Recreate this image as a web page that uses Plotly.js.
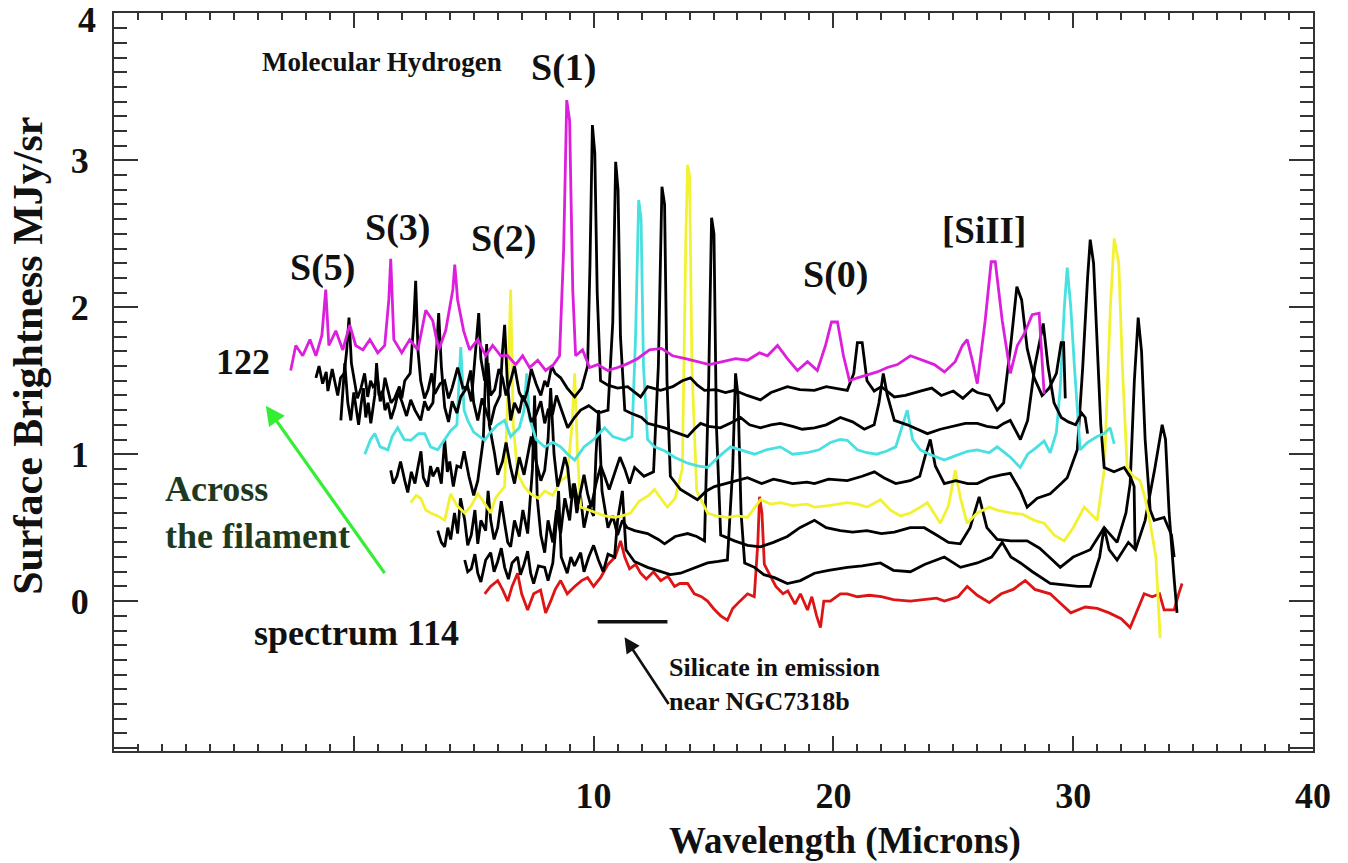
<!DOCTYPE html>
<html><head><meta charset="utf-8">
<script src="https://cdn.plot.ly/plotly-3.0.1.min.js"></script>
<style>html,body{margin:0;padding:0;background:#fff}#chart{width:1348px;height:863px}</style>
</head><body><div id="chart"></div>
<script>
// ---- data: [wavelength, surface brightness] ----
const spec122 = [[-2.63,1.57],[-2.42,1.74],[-2.13,1.67],[-1.83,1.78],[-1.58,1.67],[-1.33,1.81],[-1.17,2.12],[-1.04,1.74],[-0.75,1.84],[-0.46,1.71],[-0.17,1.88],[0.08,1.74],[0.38,1.71],[0.67,1.78],[1.0,1.69],[1.29,1.74],[1.46,2.05],[1.54,2.33],[1.67,1.78],[2.0,1.69],[2.33,1.78],[2.67,1.71],[3.0,1.98],[3.29,1.91],[3.54,1.71],[3.83,1.84],[4.13,2.12],[4.21,2.29],[4.33,2.05],[4.58,1.84],[4.83,1.71],[5.17,1.78],[5.5,1.67],[5.79,1.74],[6.13,1.67],[6.42,1.67],[6.75,1.61],[7.04,1.67],[7.33,1.59],[7.67,1.64],[8.0,1.57],[8.33,1.61],[8.58,1.67],[8.75,2.39],[8.88,3.41],[9.0,3.27],[9.13,2.12],[9.25,1.67],[9.54,1.71],[9.83,1.59],[10.17,1.61],[10.58,1.57],[11.0,1.59],[11.33,1.61],[11.83,1.65],[12.33,1.71],[12.83,1.72],[13.29,1.67],[13.83,1.65],[14.33,1.63],[14.83,1.61],[15.38,1.63],[15.92,1.65],[16.42,1.64],[16.92,1.69],[17.25,1.67],[17.67,1.74],[18.08,1.65],[18.5,1.57],[18.92,1.63],[19.33,1.57],[19.67,1.74],[19.92,1.90],[20.17,1.90],[20.42,1.67],[20.67,1.50],[21.0,1.52],[21.42,1.54],[21.83,1.56],[22.25,1.59],[22.67,1.61],[23.21,1.67],[23.71,1.64],[24.21,1.61],[24.63,1.56],[25.08,1.63],[25.38,1.74],[25.58,1.78],[25.79,1.64],[26.0,1.48],[26.33,1.91],[26.58,2.31],[26.75,2.31],[27.04,1.91],[27.38,1.55],[27.67,1.74],[27.96,1.82],[28.29,1.95],[28.58,1.96],[28.79,1.41]];

const specA = [[-1.58,1.52],[-1.45,1.60],[-1.3,1.48],[-1.15,1.56],[-1.08,1.43],[-0.9,1.58],[-0.8,1.50],[-0.67,1.40],[-0.55,1.52],[-0.4,1.55],[-0.3,1.70],[-0.2,1.93],[-0.1,1.62],[0.04,1.50],[0.15,1.38],[0.3,1.45],[0.45,1.55],[0.58,1.39],[0.7,1.50],[0.8,1.46],[1.0,1.50],[1.1,1.36],[1.2,1.40],[1.3,1.52],[1.42,1.44],[1.55,1.35],[1.7,1.38],[1.9,1.46],[2.0,1.38],[2.125,1.50],[2.35,1.55],[2.5,1.9],[2.58,2.18],[2.68,1.7],[2.79,1.50],[2.95,1.38],[3.1,1.44],[3.25,1.55],[3.375,1.41],[3.6,1.48],[3.79,1.50],[3.95,1.38],[4.1,1.45],[4.33,1.59],[4.55,1.45],[4.75,1.46],[4.9,1.36],[5.0,1.55],[5.12,1.8],[5.21,1.96],[5.3,1.65],[5.46,1.50],[5.6,1.62],[5.7,1.40],[5.875,1.44],[6.05,1.58],[6.2,1.52],[6.35,1.40],[6.54,1.50],[6.7,1.60],[6.9,1.42],[7.1,1.36],[7.25,1.44],[7.4,1.58],[7.6,1.48],[7.8,1.40],[7.96,1.50],[8.08,1.46],[8.25,1.60],[8.4,1.55],[8.625,1.52],[8.9,1.45],[9.21,1.39],[9.5,1.45],[9.75,1.60],[9.85,2.3],[9.95,3.24],[10.05,3.05],[10.15,2.1],[10.29,1.50],[10.6,1.47],[11.0,1.45],[11.42,1.46],[11.96,1.39],[12.25,1.46],[12.79,1.435],[13.3,1.46],[13.7,1.50],[14.04,1.52],[14.33,1.47],[14.625,1.435],[15.1,1.44],[15.5,1.42],[15.875,1.435],[16.4,1.40],[16.96,1.37],[17.4,1.42],[17.79,1.44],[18.08,1.46],[18.6,1.44],[19.21,1.435],[19.7,1.46],[20.29,1.44],[20.58,1.435],[20.85,1.55],[21.0,1.76],[21.2,1.76],[21.4,1.50],[21.7,1.43],[22.0,1.46],[22.54,1.39],[23.0,1.40],[23.625,1.43],[24.1,1.45],[24.5,1.40],[25.0,1.43],[25.4,1.38],[25.8,1.44],[26.0,1.42],[26.5,1.40],[26.83,1.30],[27.1,1.35],[27.4,1.75],[27.65,2.14],[27.85,2.05],[28.08,1.72],[28.375,1.52],[28.7,1.40],[29.0,1.45],[29.3,1.55],[29.5,1.76],[29.6,1.76],[29.67,1.38]];

const specB = [[-0.54,1.23],[-0.45,1.45],[-0.375,1.62],[-0.25,1.35],[-0.125,1.23],[0.0,1.42],[0.1,1.30],[0.2,1.20],[0.29,1.32],[0.4,1.45],[0.5,1.25],[0.6,1.35],[0.71,1.21],[0.875,1.40],[0.95,1.62],[1.05,1.40],[1.2,1.43],[1.3,1.30],[1.42,1.35],[1.55,1.24],[1.71,1.32],[1.85,1.42],[2.0,1.36],[2.2,1.26],[2.375,1.37],[2.55,1.30],[2.79,1.23],[2.95,1.36],[3.1,1.30],[3.3,1.35],[3.45,1.70],[3.54,1.96],[3.65,1.60],[3.79,1.32],[3.95,1.22],[4.1,1.36],[4.3,1.28],[4.46,1.39],[4.7,1.45],[4.875,1.57],[5.0,1.35],[5.17,1.23],[5.35,1.38],[5.5,1.30],[5.7,1.20],[5.875,1.32],[6.1,1.40],[6.2,1.70],[6.29,1.88],[6.4,1.50],[6.54,1.23],[6.7,1.35],[6.9,1.28],[7.05,1.40],[7.25,1.32],[7.4,1.22],[7.6,1.27],[7.8,1.36],[7.96,1.21],[8.1,1.30],[8.3,1.28],[8.45,1.40],[8.625,1.32],[8.92,1.18],[9.2,1.25],[9.46,1.30],[9.8,1.33],[10.2,1.28],[10.6,1.30],[10.8,1.9],[10.92,2.99],[11.02,2.80],[11.12,1.80],[11.3,1.30],[11.54,1.28],[12.0,1.25],[12.25,1.21],[12.7,1.19],[12.96,1.18],[13.4,1.15],[13.92,1.12],[14.2,1.17],[14.46,1.21],[14.8,1.19],[15.29,1.18],[15.8,1.22],[16.125,1.25],[16.5,1.20],[16.96,1.18],[17.4,1.20],[17.79,1.21],[18.3,1.19],[18.7,1.17],[19.21,1.18],[19.7,1.20],[20.29,1.25],[20.8,1.22],[21.29,1.17],[21.7,1.20],[21.9,1.35],[22.08,1.55],[22.25,1.40],[22.54,1.23],[23.08,1.20],[23.6,1.16],[23.92,1.14],[24.46,1.17],[25.0,1.19],[25.5,1.21],[26.0,1.21],[26.4,1.19],[26.83,1.18],[27.1,1.21],[27.375,1.23],[27.8,1.10],[28.1,1.23],[28.4,1.60],[28.75,1.89],[28.95,1.60],[29.2,1.35],[29.5,1.25],[29.8,1.22],[30.1,1.20],[30.35,1.28],[30.5,1.25],[30.6,1.14]];

const specCyan = [[0.46,1.00],[0.7,1.10],[0.875,1.14],[1.1,1.05],[1.42,1.03],[1.6,1.12],[1.83,1.18],[2.1,1.10],[2.375,1.095],[2.7,1.14],[2.96,1.14],[3.2,1.05],[3.5,1.03],[3.8,1.10],[4.04,1.16],[4.3,1.20],[4.46,1.73],[4.6,1.30],[4.75,1.23],[5.0,1.15],[5.46,1.095],[5.7,1.15],[6.0,1.20],[6.29,1.23],[6.54,1.12],[6.9,1.18],[7.1,1.30],[7.21,1.55],[7.32,1.25],[7.6,1.10],[7.96,1.05],[8.3,1.08],[8.625,1.05],[8.92,1.00],[9.21,0.96],[9.6,1.05],[10.0,1.10],[10.46,1.18],[10.8,1.12],[11.29,1.095],[11.6,1.12],[11.75,1.8],[11.88,2.73],[11.98,2.6],[12.08,1.6],[12.25,1.10],[12.54,1.05],[13.0,1.02],[13.375,0.98],[13.9,0.94],[14.33,0.92],[14.75,0.91],[15.2,0.98],[15.71,1.05],[16.125,1.03],[16.71,1.00],[17.2,1.03],[17.79,1.05],[18.3,1.00],[18.9,1.01],[19.4,1.03],[19.875,1.08],[20.29,1.10],[20.58,1.095],[21.0,1.03],[21.4,1.01],[21.8,1.00],[22.2,1.02],[22.6,1.05],[22.9,1.20],[23.08,1.30],[23.3,1.10],[23.625,1.03],[24.0,1.00],[24.625,0.96],[25.1,0.99],[25.6,1.02],[26.0,1.03],[26.5,1.01],[26.83,1.05],[27.375,0.98],[27.79,0.91],[28.1,1.00],[28.5,1.05],[28.79,1.09],[29.04,1.01],[29.3,1.15],[29.46,1.45],[29.63,2.0],[29.75,2.27],[29.9,2.0],[30.05,1.6],[30.29,1.03],[30.6,1.08],[31.0,1.12],[31.29,1.14],[31.54,1.18],[31.71,1.07]];

const specC = [[1.54,0.89],[1.65,0.80],[1.8,0.85],[1.95,0.95],[2.125,0.82],[2.25,0.74],[2.4,0.88],[2.55,0.80],[2.67,0.91],[2.8,1.02],[2.9,0.84],[3.08,0.78],[3.2,0.92],[3.3,0.85],[3.5,0.91],[3.65,0.80],[3.79,1.10],[3.9,0.88],[4.0,0.95],[4.15,0.78],[4.3,0.92],[4.46,0.91],[4.6,1.02],[4.8,0.85],[5.0,0.72],[5.17,0.82],[5.4,1.1],[5.54,1.75],[5.65,1.2],[5.875,1.00],[6.0,0.86],[6.2,0.95],[6.35,1.08],[6.54,0.91],[6.7,0.80],[6.9,0.98],[7.1,0.86],[7.25,1.00],[7.4,1.12],[7.6,0.95],[7.8,0.82],[7.96,0.89],[8.1,1.1],[8.21,1.45],[8.35,1.0],[8.5,0.78],[8.625,0.85],[8.8,0.98],[8.92,0.91],[9.05,0.70],[9.2,0.80],[9.35,0.66],[9.46,0.75],[9.6,0.86],[9.75,0.73],[9.9,0.64],[10.1,0.80],[10.3,0.92],[10.46,0.85],[10.65,0.76],[10.875,0.87],[11.1,0.98],[11.3,0.90],[11.5,0.80],[11.71,0.91],[12.1,0.85],[12.5,0.88],[12.7,1.6],[12.85,2.82],[12.96,2.7],[13.06,1.5],[13.2,0.85],[13.625,0.76],[14.0,0.72],[14.33,0.69],[14.7,0.75],[15.04,0.78],[15.5,0.80],[16.0,0.82],[16.42,0.84],[17.0,0.80],[17.5,0.83],[17.79,0.82],[18.3,0.80],[18.9,0.81],[19.21,0.80],[19.8,0.83],[20.58,0.82],[21.2,0.85],[21.71,0.88],[22.1,0.84],[22.6,0.80],[23.2,0.82],[23.6,0.85],[23.85,1.0],[24.04,1.10],[24.25,0.92],[24.625,0.80],[25.1,0.82],[25.6,0.80],[26.0,0.80],[26.5,0.84],[27.0,0.86],[27.375,0.87],[27.8,0.75],[28.08,0.64],[28.5,0.70],[29.04,0.73],[29.5,0.80],[29.75,0.84],[30.17,1.03],[30.4,1.6],[30.6,2.2],[30.71,2.46],[30.85,2.3],[31.0,1.8],[31.15,1.2],[31.29,0.91],[31.7,0.88],[32.125,0.91],[32.4,0.84],[32.54,0.78],[32.58,0.35]];

const specYellow = [[2.375,0.67],[2.6,0.72],[2.79,0.70],[3.0,0.62],[3.21,0.60],[3.5,0.58],[3.79,0.55],[4.04,0.73],[4.3,0.65],[4.625,0.60],[4.9,0.65],[5.17,0.73],[5.4,0.68],[5.71,0.60],[5.9,0.70],[6.29,0.78],[6.42,1.4],[6.54,2.12],[6.65,1.2],[6.83,0.87],[7.1,0.78],[7.375,0.73],[7.7,0.70],[7.96,0.75],[8.3,0.72],[8.625,0.82],[8.9,0.85],[9.1,1.2],[9.21,1.55],[9.33,1.0],[9.46,0.64],[9.8,0.62],[10.1,0.60],[10.46,0.58],[10.875,0.57],[11.2,0.58],[11.54,0.60],[11.9,0.68],[12.3,0.72],[12.54,0.76],[12.8,0.70],[13.08,0.64],[13.4,0.70],[13.7,0.9],[13.85,2.5],[13.92,2.97],[14.0,2.9],[14.1,1.6],[14.3,0.75],[14.75,0.60],[15.1,0.58],[15.58,0.57],[16.0,0.58],[16.42,0.57],[16.96,0.69],[17.4,0.66],[17.79,0.67],[18.3,0.65],[18.9,0.66],[19.21,0.64],[19.8,0.65],[20.58,0.67],[21.0,0.66],[21.4,0.64],[21.96,0.69],[22.375,0.62],[22.8,0.58],[23.21,0.60],[23.625,0.64],[23.92,0.67],[24.46,0.53],[24.8,0.65],[25.08,0.89],[25.3,0.70],[25.58,0.53],[26.0,0.60],[26.5,0.64],[26.83,0.62],[27.375,0.60],[27.9,0.59],[28.375,0.55],[28.79,0.53],[29.2,0.45],[29.625,0.41],[30.0,0.50],[30.46,0.64],[31.0,0.55],[31.3,0.9],[31.55,2.0],[31.71,2.47],[31.9,2.3],[32.05,1.6],[32.25,0.91],[32.5,0.85],[32.79,0.82],[33.0,0.70],[33.21,0.53],[33.45,0.3],[33.625,-0.25]];

const specD = [[3.5,0.48],[3.65,0.40],[3.79,0.37],[3.92,0.50],[4.04,0.42],[4.2,0.60],[4.33,0.46],[4.45,0.70],[4.625,0.55],[4.75,0.38],[4.9,0.45],[5.05,0.62],[5.17,0.39],[5.3,0.55],[5.5,0.48],[5.6,0.75],[5.71,0.55],[5.85,0.42],[6.0,0.50],[6.15,0.68],[6.3,0.52],[6.42,0.40],[6.54,0.37],[6.7,0.55],[6.9,0.44],[7.05,0.62],[7.25,0.46],[7.45,0.9],[7.54,1.4],[7.65,0.7],[7.8,0.45],[7.96,0.33],[8.1,0.55],[8.3,0.40],[8.45,0.62],[8.625,0.46],[8.8,0.70],[9.0,0.55],[9.15,0.80],[9.3,0.60],[9.45,0.72],[9.6,0.50],[9.8,0.65],[10.0,0.58],[10.1,1.0],[10.21,1.3],[10.35,0.75],[10.5,0.60],[10.6,0.50],[10.8,0.58],[11.0,0.45],[11.2,0.55],[11.4,0.50],[11.71,0.48],[12.25,0.46],[12.7,0.42],[12.96,0.39],[13.4,0.44],[13.92,0.46],[14.3,0.44],[14.625,0.41],[14.8,1.5],[14.92,2.61],[15.02,2.5],[15.12,1.2],[15.3,0.45],[15.875,0.41],[16.42,0.38],[16.96,0.37],[17.5,0.40],[18.08,0.44],[18.6,0.50],[19.21,0.55],[19.7,0.50],[20.29,0.48],[20.8,0.47],[21.4,0.48],[22.0,0.46],[22.54,0.47],[23.2,0.50],[23.79,0.50],[24.3,0.45],[24.8,0.40],[25.29,0.39],[25.7,0.50],[26.08,0.71],[26.4,0.50],[26.83,0.42],[27.4,0.41],[28.08,0.41],[28.6,0.36],[29.0,0.30],[29.46,0.23],[30.0,0.30],[30.71,0.35],[31.29,0.50],[31.83,0.40],[32.2,0.60],[32.375,0.80],[32.55,1.5],[32.71,1.93],[32.85,1.7],[33.0,1.1],[33.21,0.62],[33.375,0.55],[33.79,0.57],[34.1,0.45],[34.21,0.30]];

const specE = [[4.625,0.28],[4.75,0.20],[4.9,0.22],[5.05,0.32],[5.17,0.19],[5.3,0.13],[5.5,0.28],[5.71,0.33],[5.85,0.20],[6.0,0.27],[6.15,0.36],[6.29,0.23],[6.45,0.15],[6.6,0.26],[6.83,0.30],[6.95,0.18],[7.1,0.25],[7.25,0.34],[7.375,0.19],[7.5,0.12],[7.7,0.24],[7.96,0.23],[8.1,0.14],[8.3,0.26],[8.45,0.55],[8.54,0.75],[8.65,0.30],[8.9,0.19],[9.05,0.30],[9.2,0.24],[9.46,0.33],[9.6,0.20],[9.8,0.30],[10.0,0.38],[10.2,0.28],[10.4,0.20],[10.6,0.32],[10.875,0.30],[11.0,0.55],[11.2,0.75],[11.35,0.35],[11.7,0.27],[12.25,0.23],[12.8,0.20],[13.2,0.18],[13.625,0.19],[14.1,0.22],[14.75,0.26],[15.2,0.27],[15.58,0.28],[15.8,0.9],[15.92,1.55],[16.02,1.4],[16.15,0.6],[16.3,0.26],[16.71,0.23],[17.1,0.18],[17.54,0.16],[18.08,0.12],[18.625,0.14],[19.21,0.19],[19.8,0.21],[20.58,0.23],[21.2,0.24],[21.96,0.26],[22.5,0.21],[23.21,0.20],[23.8,0.25],[24.625,0.30],[25.3,0.23],[26.0,0.26],[26.6,0.30],[27.04,0.40],[27.4,0.30],[27.8,0.26],[28.3,0.20],[29.04,0.12],[29.6,0.11],[30.2,0.10],[30.71,0.10],[31.1,0.30],[31.29,0.50],[31.5,0.35],[31.83,0.28],[32.3,0.40],[32.6,0.35],[33.0,0.55],[33.4,0.9],[33.71,1.20],[33.85,1.1],[34.0,0.6],[34.21,0.15],[34.33,-0.08]];

const spec114 = [[5.46,0.05],[5.7,0.10],[6.0,0.14],[6.2,0.08],[6.42,0.0],[6.6,0.10],[6.83,0.19],[7.0,0.05],[7.25,-0.06],[7.5,0.05],[7.79,0.075],[8.0,-0.08],[8.21,0.0],[8.4,0.08],[8.625,0.14],[8.9,0.05],[9.21,0.10],[9.5,0.14],[9.75,0.16],[10.0,0.10],[10.29,0.16],[10.6,0.25],[10.9,0.30],[11.125,0.41],[11.3,0.30],[11.5,0.22],[11.75,0.25],[11.96,0.19],[12.2,0.15],[12.5,0.20],[12.8,0.14],[13.1,0.17],[13.375,0.10],[13.6,0.12],[13.92,0.12],[14.2,0.05],[14.5,0.03],[14.75,0.0],[15.0,-0.05],[15.3,-0.10],[15.58,-0.13],[15.8,-0.05],[16.1,0.0],[16.42,0.05],[16.7,0.03],[16.85,0.4],[16.92,0.71],[17.02,0.6],[17.12,0.25],[17.3,0.19],[17.6,0.10],[17.9,0.05],[18.1,0.07],[18.4,-0.02],[18.625,0.05],[18.92,-0.06],[19.1,0.03],[19.3,-0.10],[19.46,-0.18],[19.6,0.0],[19.875,0.0],[20.29,0.05],[20.58,0.05],[21.0,0.03],[21.5,0.04],[22.0,0.03],[22.5,0.01],[23.21,0.0],[23.7,0.01],[24.3,0.02],[24.625,0.0],[25.2,0.03],[25.58,0.10],[26.0,0.04],[26.5,-0.01],[27.0,0.05],[27.5,0.08],[28.0,0.14],[28.4,0.08],[29.04,0.05],[29.5,-0.02],[29.9,-0.08],[30.5,-0.04],[31.0,-0.05],[31.5,-0.08],[32.0,-0.12],[32.375,-0.18],[32.7,-0.05],[32.96,0.05],[33.3,0.03],[33.6,0.05],[33.79,-0.06],[34.21,-0.06],[34.4,0.05],[34.54,0.12]];

const seriesOrder = ["114","E","D","yellow","C","cyan","B","A","122"];
const seriesColors = ["#dd1515","#000000","#000000","#f2f232","#000000","#48e0e0","#000000","#000000","#dc1fdc"];
const seriesData = [spec114, specE, specD, specYellow, specC, specCyan, specB, specA, spec122];

const xTickVals = [-10,0,10,20,30,40];
const xTickText = ["","","10","20","30","40"];
const yTickVals = [-1,0,1,2,3,4];
const yTickText = ["","0","1","2","3","4"];

// annotation anchors (data units)
const silicateBar = {x0:10.17, x1:13.08, y:-0.14};
const blackArrow = {x:11.29, y:-0.245, ax:13.17, ay:-0.71};
const greenArrow = {x:-3.67, y:1.33, ax:1.33, ay:0.18};

const FONT = "'Liberation Serif','Times New Roman',serif";

const traces = seriesData.map((d,i)=>({
  type:'scatter', mode:'lines',
  x:d.map(p=>p[0]), y:d.map(p=>p[1]),
  line:{color:seriesColors[i], width:2.8},
  name:seriesOrder[i], hoverinfo:'skip'
}));

const lbl = (text,x,y,size,opts)=>Object.assign({text:text,x:x,y:y,xref:'x',yref:'y',showarrow:false,
  xanchor:'center',yanchor:'middle',
  font:{family:FONT,size:size,color:'#111',weight:'bold'}},opts||{});

// the top tick label sits at the frame edge; it is drawn just below the edge as in the figure
const topIdx = yTickVals.length - 1;
const shownYTickText = yTickText.map((t,i)=> i===topIdx ? "" : t);

const annotations = [
  lbl('Molecular Hydrogen',1.17,3.67,27),
  lbl('S(1)',8.75,3.63,38),
  lbl('S(5)',-1.29,2.27,38),
  lbl('S(3)',1.83,2.54,38),
  lbl('S(2)',6.25,2.47,38),
  lbl('S(0)',20.1,2.22,38),
  lbl('[SiII]',26.3,2.52,37),
  lbl('122',-4.6,1.63,36),
  lbl('Across<br>the filament',-7.96,0.6,36,{xanchor:'left',align:'left',font:{family:FONT,size:36,color:'#1e3a1e',weight:'bold'}}),
  lbl('spectrum 114',-4.25,-0.22,36,{xanchor:'left'}),
  lbl('Silicate in emission<br>near NGC7318b',13.08,-0.565,26,{xanchor:'left',align:'left'}),
  {text:yTickText[topIdx],xref:'paper',yref:'paper',x:-0.0135,y:0.99,xanchor:'right',yanchor:'middle',showarrow:false,
   font:{family:FONT,size:36,color:'#111',weight:'bold'}},
  {x:greenArrow.x,y:greenArrow.y,ax:greenArrow.ax,ay:greenArrow.ay,xref:'x',yref:'y',axref:'x',ayref:'y',
   text:'',showarrow:true,arrowhead:2,arrowsize:1.2,arrowwidth:3.2,arrowcolor:'#33ee33'},
  {x:blackArrow.x,y:blackArrow.y,ax:blackArrow.ax,ay:blackArrow.ay,xref:'x',yref:'y',axref:'x',ayref:'y',
   text:'',showarrow:true,arrowhead:2,arrowsize:1.2,arrowwidth:2.6,arrowcolor:'#111'},
  {text:'Wavelength (Microns)',xref:'paper',yref:'paper',x:0.61,y:-0.122,xanchor:'center',yanchor:'middle',showarrow:false,
   font:{family:FONT,size:37,color:'#111',weight:'bold'}},
  {text:'Surface Brightness MJy/sr',xref:'paper',yref:'paper',x:-0.072,y:0.535,xanchor:'center',yanchor:'middle',textangle:-90,showarrow:false,
   font:{family:FONT,size:42,color:'#111',weight:'bold'}}
];

const layout = {
  width:1348, height:863,
  margin:{l:114, r:35, t:13, b:112},
  paper_bgcolor:'#fff', plot_bgcolor:'#fff',
  showlegend:false,
  xaxis:{range:[-10,40], showgrid:false, zeroline:false, showline:true, linecolor:'#333', linewidth:2,
    mirror:'ticks', ticks:'inside', ticklen:15, tickwidth:2, tickcolor:'#333',
    tickmode:'array', tickvals:xTickVals, ticktext:xTickText, ticklabelstandoff:12,
    tickfont:{family:FONT,size:36,color:'#111',weight:'bold'},
    minor:{dtick:1, ticks:'inside', ticklen:7, tickwidth:2, tickcolor:'#333', showgrid:false}},
  yaxis:{range:[-1.02,4.003], showgrid:false, zeroline:false, showline:true, linecolor:'#333', linewidth:2,
    mirror:'ticks', ticks:'inside', ticklen:24, tickwidth:2, tickcolor:'#333',
    tickmode:'array', tickvals:yTickVals, ticktext:shownYTickText, ticklabelstandoff:16,
    tickfont:{family:FONT,size:36,color:'#111',weight:'bold'},
    minor:{dtick:0.1, ticks:'inside', ticklen:13, tickwidth:2, tickcolor:'#333', showgrid:false}},
  shapes:[{type:'line',xref:'x',yref:'y',x0:silicateBar.x0,x1:silicateBar.x1,y0:silicateBar.y,y1:silicateBar.y,
    line:{color:'#111',width:3.5}}],
  annotations:annotations
};

Plotly.newPlot('chart', traces, layout, {displayModeBar:false, staticPlot:true});
</script></body></html>
